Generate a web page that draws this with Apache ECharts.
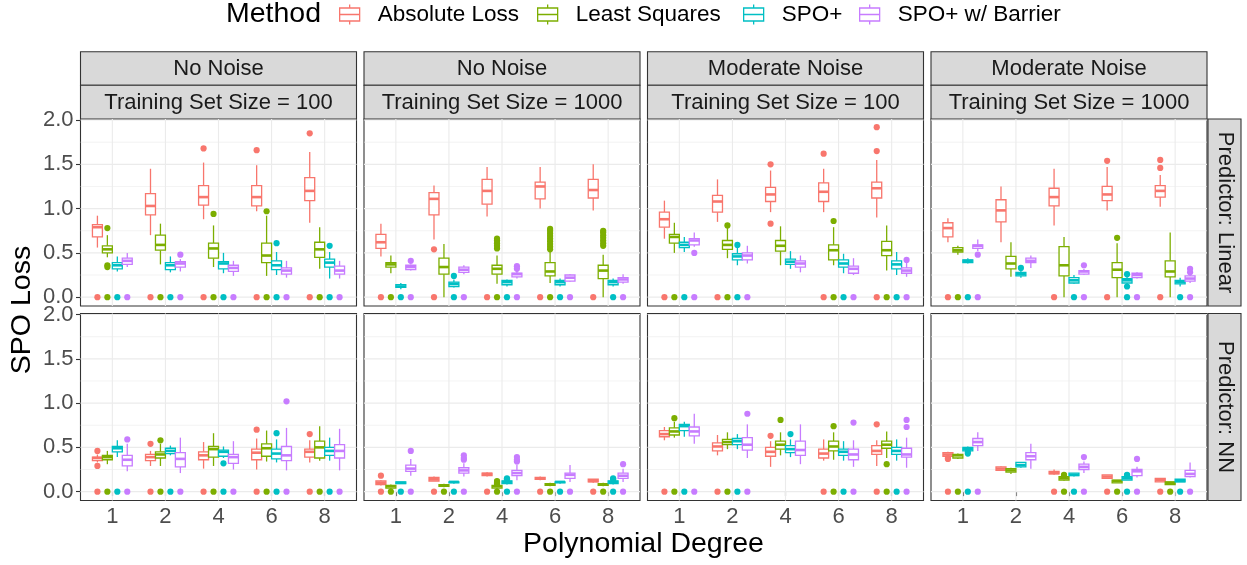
<!DOCTYPE html>
<html>
<head>
<meta charset="utf-8">
<script src="https://cdn.jsdelivr.net/npm/echarts@6/dist/echarts.min.js"></script>
<style>html,body{margin:0;padding:0;background:#fff;}#chart{width:1247px;height:565px;}</style>
</head>
<body>
<div id="chart"></div>
<script>
// ---------- labels ----------
const degrees = ['1', '2', '4', '6', '8'];
const methods = ['Absolute Loss', 'Least Squares', 'SPO+', 'SPO+ w/ Barrier'];
const noiseLabels = ['No Noise', 'No Noise', 'Moderate Noise', 'Moderate Noise'];
const sizeLabels = ['Training Set Size = 100', 'Training Set Size = 1000', 'Training Set Size = 100', 'Training Set Size = 1000'];
const predictorLabels = ['Predictor: Linear', 'Predictor: NN'];
const yTicks = [0, 0.5, 1, 1.5, 2];
const yMinorTicks = [0.25, 0.75, 1.25, 1.75];

// ---------- box stats: per method, per degree: [lowWhisker, Q1, median, Q3, highWhisker] ----------
const linNoNoise100 = [
  [[0.56,0.68,0.79,0.82,0.92],[0.70,0.93,1.03,1.17,1.45],[0.88,1.04,1.13,1.26,1.52],[0.97,1.03,1.13,1.26,1.49],[0.84,1.09,1.20,1.35,1.64]],
  [[0.45,0.50,0.54,0.58,0.70],[0.37,0.53,0.59,0.70,0.83],[0.34,0.44,0.55,0.61,0.81],[0.24,0.39,0.47,0.61,0.92],[0.32,0.45,0.54,0.62,0.79]],
  [[0.29,0.32,0.36,0.39,0.46],[0.28,0.31,0.36,0.39,0.46],[0.27,0.32,0.38,0.40,0.50],[0.25,0.31,0.36,0.41,0.51],[0.21,0.34,0.39,0.43,0.51]],
  [[0.34,0.37,0.41,0.44,0.50],[0.29,0.34,0.38,0.40,0.43],[0.24,0.29,0.33,0.36,0.41],[0.22,0.26,0.30,0.33,0.41],[0.21,0.26,0.30,0.35,0.41]]
];
const linNoNoise1000 = [
  [[0.46,0.55,0.62,0.71,0.83],[0.65,0.93,1.11,1.18,1.26],[0.91,1.05,1.20,1.33,1.47],[1.00,1.11,1.25,1.30,1.47],[0.98,1.12,1.21,1.33,1.50]],
  [[0.27,0.34,0.37,0.39,0.47],[0.00,0.26,0.34,0.44,0.60],[0.15,0.26,0.32,0.36,0.47],[0.16,0.24,0.29,0.39,0.51],[0.00,0.21,0.30,0.36,0.48]],
  [[0.09,0.11,0.12,0.14,0.16],[0.11,0.12,0.15,0.17,0.20],[0.12,0.14,0.17,0.19,0.20],[0.12,0.14,0.17,0.19,0.21],[0.12,0.14,0.17,0.19,0.21]],
  [[0.30,0.31,0.34,0.36,0.37],[0.26,0.28,0.31,0.34,0.36],[0.21,0.23,0.26,0.27,0.30],[0.17,0.18,0.22,0.25,0.26],[0.15,0.17,0.20,0.22,0.26]]
];
const linModNoise100 = [
  [[0.66,0.79,0.88,0.96,1.09],[0.85,0.96,1.08,1.15,1.33],[0.96,1.08,1.16,1.24,1.43],[0.96,1.08,1.19,1.29,1.45],[0.90,1.12,1.23,1.30,1.55]],
  [[0.50,0.61,0.68,0.71,0.84],[0.44,0.54,0.59,0.64,0.79],[0.36,0.52,0.58,0.64,0.80],[0.36,0.42,0.53,0.59,0.79],[0.30,0.47,0.53,0.63,0.81]],
  [[0.51,0.56,0.59,0.62,0.68],[0.36,0.42,0.46,0.49,0.56],[0.32,0.37,0.40,0.43,0.52],[0.27,0.34,0.38,0.42,0.49],[0.25,0.32,0.37,0.41,0.51]],
  [[0.57,0.59,0.64,0.66,0.73],[0.38,0.42,0.47,0.50,0.58],[0.28,0.34,0.38,0.41,0.47],[0.25,0.27,0.32,0.35,0.44],[0.23,0.27,0.30,0.33,0.39]]
];
const linModNoise1000 = [
  [[0.62,0.68,0.78,0.84,0.89],[0.62,0.85,0.98,1.10,1.25],[0.81,1.03,1.13,1.23,1.45],[0.98,1.09,1.16,1.25,1.47],[1.02,1.13,1.20,1.26,1.38]],
  [[0.48,0.51,0.53,0.56,0.58],[0.23,0.32,0.38,0.46,0.62],[0.00,0.24,0.36,0.57,0.68],[0.00,0.22,0.31,0.39,0.61],[0.00,0.23,0.29,0.41,0.73]],
  [[0.38,0.39,0.41,0.42,0.44],[0.22,0.24,0.26,0.28,0.30],[0.15,0.16,0.19,0.22,0.25],[0.14,0.16,0.19,0.21,0.24],[0.12,0.15,0.17,0.19,0.22]],
  [[0.52,0.55,0.58,0.59,0.65],[0.33,0.39,0.41,0.44,0.47],[0.25,0.26,0.29,0.30,0.32],[0.21,0.22,0.25,0.27,0.28],[0.16,0.18,0.21,0.24,0.26]]
];
const nnNoNoise100 = [
  [[0.33,0.35,0.38,0.39,0.42],[0.29,0.35,0.39,0.42,0.46],[0.26,0.36,0.41,0.45,0.56],[0.25,0.36,0.44,0.48,0.60],[0.33,0.39,0.45,0.48,0.58]],
  [[0.31,0.36,0.39,0.41,0.46],[0.29,0.38,0.42,0.45,0.54],[0.29,0.39,0.48,0.51,0.66],[0.34,0.40,0.49,0.54,0.69],[0.35,0.38,0.50,0.57,0.74]],
  [[0.39,0.45,0.49,0.51,0.58],[0.41,0.43,0.46,0.49,0.52],[0.38,0.40,0.45,0.47,0.51],[0.33,0.37,0.43,0.48,0.59],[0.35,0.41,0.46,0.50,0.61]],
  [[0.23,0.29,0.36,0.41,0.54],[0.21,0.28,0.37,0.44,0.61],[0.25,0.32,0.39,0.42,0.57],[0.24,0.35,0.41,0.51,0.72],[0.24,0.38,0.46,0.53,0.71]]
];
const nnNoNoise1000 = [
  [[0.07,0.08,0.10,0.12,0.13],[0.12,0.12,0.14,0.16,0.17],[0.17,0.18,0.20,0.21,0.22],[0.13,0.14,0.15,0.16,0.17],[0.10,0.11,0.12,0.14,0.14]],
  [[0.03,0.04,0.06,0.07,0.08],[0.05,0.06,0.07,0.08,0.09],[0.03,0.04,0.06,0.07,0.08],[0.06,0.07,0.08,0.09,0.10],[0.06,0.07,0.08,0.09,0.10]],
  [[0.09,0.09,0.10,0.11,0.11],[0.09,0.10,0.11,0.11,0.12],[0.08,0.09,0.11,0.12,0.13],[0.09,0.10,0.11,0.11,0.12],[0.08,0.09,0.11,0.12,0.13]],
  [[0.18,0.23,0.26,0.30,0.37],[0.17,0.21,0.24,0.27,0.32],[0.13,0.18,0.21,0.24,0.30],[0.11,0.15,0.19,0.21,0.30],[0.11,0.15,0.18,0.21,0.26]]
];
const nnModNoise100 = [
  [[0.58,0.62,0.65,0.69,0.73],[0.41,0.46,0.51,0.55,0.64],[0.28,0.40,0.45,0.50,0.57],[0.35,0.38,0.43,0.48,0.59],[0.29,0.42,0.46,0.52,0.58]],
  [[0.61,0.64,0.68,0.72,0.79],[0.48,0.53,0.56,0.59,0.67],[0.41,0.48,0.53,0.57,0.67],[0.36,0.46,0.51,0.57,0.67],[0.38,0.49,0.53,0.57,0.68]],
  [[0.62,0.69,0.74,0.76,0.79],[0.48,0.53,0.57,0.60,0.65],[0.39,0.44,0.48,0.52,0.59],[0.35,0.41,0.45,0.48,0.57],[0.35,0.42,0.46,0.50,0.59]],
  [[0.54,0.63,0.68,0.73,0.88],[0.38,0.47,0.53,0.61,0.76],[0.31,0.41,0.47,0.57,0.76],[0.28,0.36,0.42,0.48,0.58],[0.27,0.39,0.42,0.49,0.61]]
];
const nnModNoise1000 = [
  [[0.39,0.40,0.42,0.44,0.45],[0.24,0.24,0.26,0.28,0.29],[0.19,0.20,0.21,0.23,0.25],[0.15,0.15,0.17,0.19,0.19],[0.11,0.11,0.13,0.15,0.15]],
  [[0.37,0.38,0.41,0.42,0.43],[0.20,0.22,0.24,0.26,0.27],[0.12,0.13,0.15,0.17,0.17],[0.10,0.10,0.12,0.13,0.13],[0.08,0.08,0.10,0.11,0.11]],
  [[0.46,0.46,0.48,0.50,0.51],[0.27,0.28,0.30,0.33,0.33],[0.17,0.18,0.19,0.21,0.21],[0.13,0.13,0.15,0.17,0.17],[0.11,0.11,0.12,0.14,0.14]],
  [[0.46,0.52,0.56,0.60,0.67],[0.26,0.36,0.40,0.44,0.54],[0.21,0.25,0.28,0.31,0.34],[0.16,0.18,0.23,0.25,0.28],[0.16,0.17,0.20,0.24,0.33]]
];

// ---------- outliers: [methodIndex, degreeIndex, value] ----------
const linNoNoise100Out = [[0,2,1.68],[0,3,1.66],[0,4,1.85],[1,0,0.78],[1,0,0.36],[1,0,0.34],[1,2,0.94],[1,3,0.97],[2,3,0.61],[2,4,0.58],[3,1,0.48]];
const linNoNoise1000Out = [[0,1,0.54],[1,2,0.55],[1,2,0.58],[1,2,0.61],[1,2,0.64],[1,2,0.66],[1,3,0.54],[1,3,0.57],[1,3,0.60],[1,3,0.63],[1,3,0.66],[1,3,0.69],[1,3,0.72],[1,3,0.75],[1,3,0.77],[1,4,0.58],[1,4,0.61],[1,4,0.64],[1,4,0.67],[1,4,0.70],[1,4,0.73],[1,4,0.75],[2,1,0.24],[3,0,0.41],[3,2,0.35],[3,2,0.32]];
const linModNoise100Out = [[0,2,1.50],[0,2,0.83],[0,3,1.62],[0,4,1.92],[0,4,1.65],[1,1,0.81],[1,3,0.86],[2,1,0.59],[3,0,0.50],[3,4,0.42]];
const linModNoise1000Out = [[0,3,1.54],[0,4,1.55],[0,4,1.46],[1,3,0.67],[2,1,0.33],[2,3,0.26],[2,3,0.12],[3,0,0.48],[3,2,0.36],[3,4,0.32],[3,4,0.28]];
const nnNoNoise100Out = [[0,0,0.46],[0,0,0.29],[0,1,0.54],[0,3,0.70],[0,4,0.65],[1,1,0.58],[2,2,0.32],[2,3,0.66],[3,0,0.59],[3,3,1.02]];
const nnNoNoise1000Out = [[0,0,0.18],[1,2,0.09],[1,2,0.10],[1,2,0.11],[1,2,0.12],[2,2,0.14],[2,2,0.15],[2,4,0.14],[2,4,0.15],[3,0,0.46],[3,1,0.36],[3,1,0.38],[3,1,0.41],[3,2,0.34],[3,2,0.36],[3,2,0.39],[3,4,0.31]];
const nnModNoise100Out = [[0,2,0.63],[0,4,0.76],[1,0,0.83],[1,2,0.81],[1,3,0.74],[1,4,0.31],[2,2,0.65],[3,1,0.88],[3,3,0.78],[3,4,0.81],[3,4,0.73]];
const nnModNoise1000Out = [[0,0,0.38],[0,0,0.37],[1,2,0.18],[1,2,0.19],[2,0,0.45],[2,0,0.43],[2,3,0.18],[2,3,0.19],[3,2,0.39],[3,3,0.37]];

// ---------- zero-loss outliers: per method, list of degree indices with a point at 0 ----------
const linNoNoise100Zero = [[0,1,2,3,4],[0,1,2,3,4],[0,1,2,3,4],[0,1,2,3,4]];
const linNoNoise1000Zero = [[0,1,2,3,4],[0,2,3],[0,1,2,3,4],[0,1,2,3,4]];
const linModNoise100Zero = [[0,1,3,4],[0,1,3,4],[0,1,3,4],[0,1,3,4]];
const linModNoise1000Zero = [[0,2,3,4],[0],[0,2,3,4],[0,2,3,4]];
const nnNoNoise100Zero = [[0,1,2,3,4],[0,1,2,3,4],[0,1,2,3,4],[0,1,2,3,4]];
const nnNoNoise1000Zero = [[0,1,2,3,4],[0,1,2,3,4],[0,1,2,3,4],[0,1,2,3,4]];
const nnModNoise100Zero = [[0,1,3,4],[0,1,3,4],[0,1,3,4],[0,1,3,4]];
const nnModNoise1000Zero = [[0,2,3,4],[0,2,3,4],[0,2,3,4],[0,2,3,4]];

// ---------- styling / layout ----------
const colors = ['#F8766D', '#7CAE00', '#00BFC4', '#C77CFF'];
const FONT = '"Liberation Sans", Arial, Helvetica, sans-serif';
const TXT = 22, TITLE = 28.5;
const colLeft = [80.5, 364, 647.5, 931];
const panelW = 276;
const rowTop = [119, 313.5];
const panelH = 187;
const Y_MIN = -0.1, Y_MAX = 2.012;
const X_MIN = 0.4, X_MAX = 5.6;
const dodge = 0.75, nM = 4, boxW = dodge / nM;

const panels = [
  {box: linNoNoise100, out: linNoNoise100Out, zero: linNoNoise100Zero},
  {box: linNoNoise1000, out: linNoNoise1000Out, zero: linNoNoise1000Zero},
  {box: linModNoise100, out: linModNoise100Out, zero: linModNoise100Zero},
  {box: linModNoise1000, out: linModNoise1000Out, zero: linModNoise1000Zero},
  {box: nnNoNoise100, out: nnNoNoise100Out, zero: nnNoNoise100Zero},
  {box: nnNoNoise1000, out: nnNoNoise1000Out, zero: nnNoNoise1000Zero},
  {box: nnModNoise100, out: nnModNoise100Out, zero: nnModNoise100Zero},
  {box: nnModNoise1000, out: nnModNoise1000Out, zero: nnModNoise1000Zero}
];

function xPos(degIdx, m) { return degIdx + 1 + (m - (nM - 1) / 2) * boxW; }

const grids = [], xAxes = [], yAxes = [], series = [];

panels.forEach((p, pi) => {
  const r = Math.floor(pi / 4), c = pi % 4;
  grids.push({left: colLeft[c], top: rowTop[r], width: panelW, height: panelH, show: true,
    backgroundColor: '#fff', borderColor: '#333333', borderWidth: 1.1});
  const bottom = r === 1, leftCol = c === 0;
  xAxes.push({gridIndex: pi, type: 'value', min: X_MIN, max: X_MAX,
    axisLine: {show: false}, splitLine: {show: false},
    axisTick: {show: bottom, customValues: [1,2,3,4,5], length: 4.5, lineStyle: {color: '#333333', width: 1.1}},
    axisLabel: {show: bottom, customValues: [1,2,3,4,5], formatter: v => degrees[Math.round(v) - 1],
      fontSize: TXT, color: '#4D4D4D', fontFamily: FONT, margin: 5}
  });
  yAxes.push({gridIndex: pi, type: 'value', min: Y_MIN, max: Y_MAX,
    axisLine: {show: false}, splitLine: {show: false},
    axisTick: {show: leftCol, customValues: yTicks, length: 4.5, lineStyle: {color: '#333333', width: 1.1}},
    axisLabel: {show: leftCol, customValues: yTicks, formatter: v => v.toFixed(1),
      fontSize: TXT, color: '#4D4D4D', fontFamily: FONT, margin: 7}
  });
  // gridlines
  series.push({type: 'custom', name: '_grid', xAxisIndex: pi, yAxisIndex: pi, silent: true, z: 1,
    data: [[1, 0]],
    renderItem: (params, api) => {
      const cs = params.coordSys;
      const ch = [];
      yMinorTicks.forEach(v => { const y = api.coord([X_MIN, v])[1];
        ch.push({type: 'line', shape: {x1: cs.x, y1: y, x2: cs.x + cs.width, y2: y}, style: {stroke: '#EBEBEB', lineWidth: 0.6}}); });
      yTicks.forEach(v => { const y = api.coord([X_MIN, v])[1];
        ch.push({type: 'line', shape: {x1: cs.x, y1: y, x2: cs.x + cs.width, y2: y}, style: {stroke: '#EBEBEB', lineWidth: 1.1}}); });
      [1,2,3,4,5].forEach(v => { const x = api.coord([v, 0])[0];
        ch.push({type: 'line', shape: {x1: x, y1: cs.y, x2: x, y2: cs.y + cs.height}, style: {stroke: '#EBEBEB', lineWidth: 1.1}}); });
      return {type: 'group', children: ch};
    }
  });
  for (let m = 0; m < nM; m++) {
    const col = colors[m];
    series.push({type: 'custom', name: methods[m], xAxisIndex: pi, yAxisIndex: pi, silent: true, z: 2 + m * 0.1,
      itemStyle: {color: col, borderColor: col},
      data: p.box[m].map((b, di) => [xPos(di, m)].concat(b)),
      renderItem: (params, api) => {
        const x = api.value(0);
        const lo = api.value(1), q1 = api.value(2), med = api.value(3), q3 = api.value(4), hi = api.value(5);
        const cx = api.coord([x, med])[0];
        const xl = api.coord([x - boxW / 2, med])[0], xr = api.coord([x + boxW / 2, med])[0];
        const yLo = api.coord([x, lo])[1], yQ1 = api.coord([x, q1])[1], yMed = api.coord([x, med])[1];
        const yQ3 = api.coord([x, q3])[1], yHi = api.coord([x, hi])[1];
        const lw = 1.3;
        return {type: 'group', children: [
          {type: 'line', shape: {x1: cx, y1: yHi, x2: cx, y2: yQ3}, style: {stroke: col, lineWidth: lw}},
          {type: 'line', shape: {x1: cx, y1: yQ1, x2: cx, y2: yLo}, style: {stroke: col, lineWidth: lw}},
          {type: 'rect', shape: {x: xl, y: yQ3, width: xr - xl, height: yQ1 - yQ3}, style: {fill: '#fff', stroke: col, lineWidth: lw}},
          {type: 'line', shape: {x1: xl, y1: yMed, x2: xr, y2: yMed}, style: {stroke: col, lineWidth: 2.6}}
        ]};
      }
    });
    const pts = p.out.filter(o => o[0] === m).map(o => [xPos(o[1], m), o[2]])
      .concat(p.zero[m].map(di => [xPos(di, m), 0]));
    series.push({type: 'scatter', name: methods[m], xAxisIndex: pi, yAxisIndex: pi, silent: true, z: 3 + m * 0.1,
      symbol: 'circle', symbolSize: 6.2, itemStyle: {color: col, opacity: 1}, data: pts});
  }
});

// ---------- graphics: strips, titles ----------
const graphic = [];
const stripStyle = {fill: '#D9D9D9', stroke: '#333333', lineWidth: 1.1};
const stripText = {fontSize: TXT, fontFamily: FONT, fill: '#1A1A1A', align: 'center', verticalAlign: 'middle'};
for (let c = 0; c < 4; c++) {
  graphic.push({type: 'rect', shape: {x: colLeft[c], y: 51.7, width: panelW, height: 33.6}, style: stripStyle, silent: true});
  graphic.push({type: 'rect', shape: {x: colLeft[c], y: 85.3, width: panelW, height: 33.7}, style: stripStyle, silent: true});
  graphic.push({type: 'text', x: colLeft[c] + panelW / 2, y: 69, style: Object.assign({text: noiseLabels[c]}, stripText), silent: true});
  graphic.push({type: 'text', x: colLeft[c] + panelW / 2, y: 102.5, style: Object.assign({text: sizeLabels[c]}, stripText), silent: true});
}
for (let r = 0; r < 2; r++) {
  graphic.push({type: 'rect', shape: {x: 1208, y: rowTop[r], width: 33, height: panelH}, style: stripStyle, silent: true});
  graphic.push({type: 'text', x: 1225, y: rowTop[r] + panelH / 2, rotation: -Math.PI / 2,
    style: Object.assign({text: predictorLabels[r]}, stripText), silent: true});
}
graphic.push({type: 'text', x: 22, y: 310, rotation: Math.PI / 2,
  style: {text: 'SPO Loss', fontSize: TITLE, fontFamily: FONT, fill: '#000', align: 'center', verticalAlign: 'middle'}, silent: true});
graphic.push({type: 'text', x: 643.5, y: 544,
  style: {text: 'Polynomial Degree', fontSize: TITLE, fontFamily: FONT, fill: '#000', align: 'center', verticalAlign: 'middle'}, silent: true});
graphic.push({type: 'text', x: 226, y: 14,
  style: {text: 'Method', fontSize: TITLE, fontFamily: FONT, fill: '#000', align: 'left', verticalAlign: 'middle'}, silent: true});

// ---------- legends (one per method, placed like ggplot's horizontal legend) ----------
const legendLeft = [339, 537, 743, 859];
const keyIcon = 'path://M10,0V3.5M0,3.5H20V16.5H0ZM0,10H20M10,16.5V20';
const legends = methods.map((name, i) => ({
  left: legendLeft[i], top: 3, padding: 0, orient: 'horizontal', itemWidth: 20, itemHeight: 20,
  selectedMode: false, icon: keyIcon, data: [name],
  itemStyle: {color: '#fff', borderColor: colors[i], borderWidth: 1.3},
  textStyle: {fontSize: 22.5, fontFamily: FONT, color: '#000', padding: [0, 0, 0, 13]}
}));

const chart = echarts.init(document.getElementById('chart'), null, {renderer: 'canvas'});
chart.setOption({
  animation: false,
  backgroundColor: '#fff',
  legend: legends,
  grid: grids,
  xAxis: xAxes,
  yAxis: yAxes,
  series: series,
  graphic: graphic
});
</script>
</body>
</html>
